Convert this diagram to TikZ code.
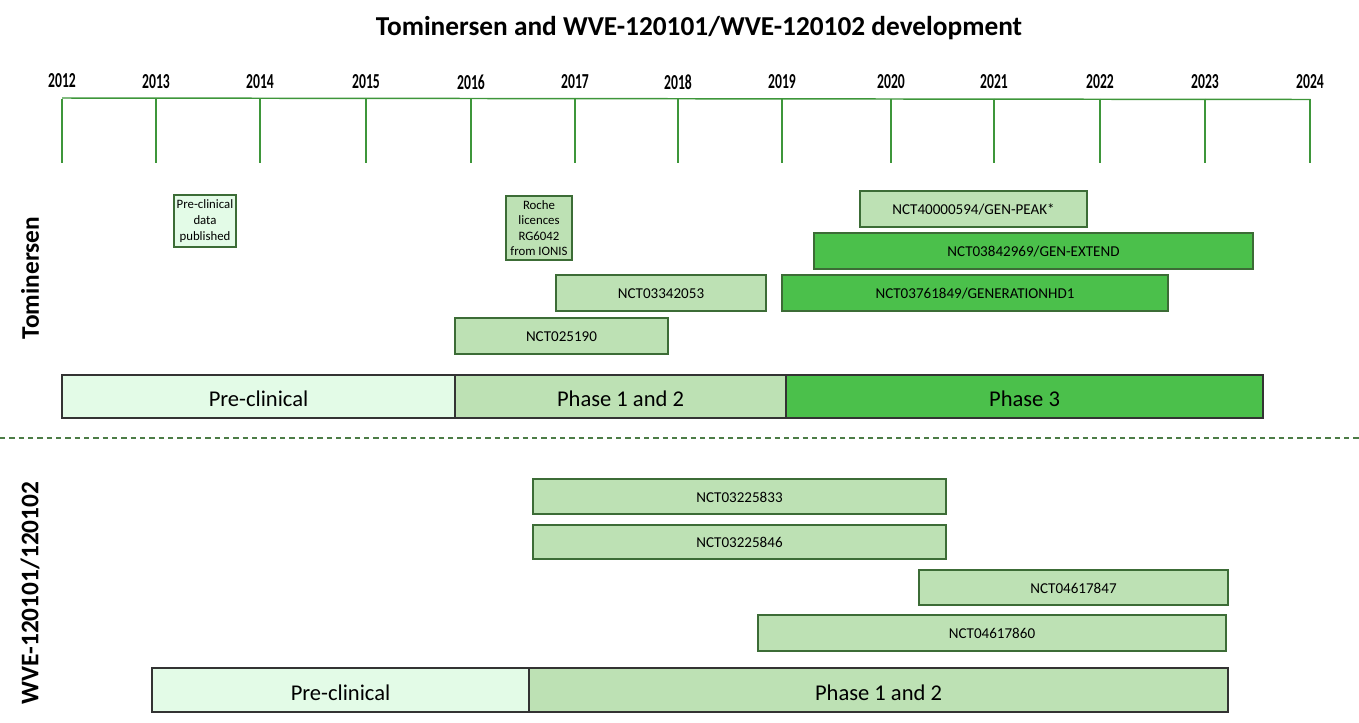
\documentclass[tikz,border=0pt]{standalone}
\usepackage{fontspec}
\setmainfont{Carlito}
\usepackage{graphicx}
\definecolor{lightg}{HTML}{E3FBE7}
\definecolor{midg}{HTML}{BDE1B4}
\definecolor{darkg}{HTML}{4BC04B}
\definecolor{edgeg}{HTML}{3C6C36}
\definecolor{axisg}{HTML}{3E963A}
\definecolor{dashg}{HTML}{4C7C46}
\newcommand{\gbox}[7]{\node[#6, minimum width={(#4-#2)*0.75pt}, minimum height={(#5-#3)*0.75pt}] (#1) at ({(#2+#4)/2},{(#3+#5)/2}) {#7};}
\newcommand{\yr}[1]{\scalebox{0.64}[1]{#1}}
\tikzset{
  trial/.style={draw=edgeg, line width=0.9pt, inner sep=0pt, text height=8.6pt, text depth=0pt, font=\fontsize{11.3}{13}\selectfont},
  note/.style={draw=edgeg, line width=0.9pt, inner sep=0pt, align=center, font=\fontsize{9.6}{11.7}\selectfont},
  phase/.style={draw=black!80, line width=0.9pt, inner sep=0pt, text height=15.6pt, text depth=0pt, font=\fontsize{16.9}{20}\selectfont},
  yearlab/.style={font=\bfseries\fontsize{16}{18}\selectfont, inner sep=0pt},
  tick/.style={axisg, line width=0.8pt},
  side/.style={rotate=90, font=\bfseries\fontsize{19}{22}\selectfont, inner sep=0pt}
}
\begin{document}
\begin{tikzpicture}[x=0.75pt,y=-0.75pt]
\useasboundingbox (0,0) rectangle (1359,722);
% title
\node[font=\bfseries\fontsize{20.5}{24}\selectfont, inner sep=0pt] (title) at (699,28) {Tominersen and WVE-120101/WVE-120102 development};
% axis
\coordinate (axL) at (62,98);
\coordinate (axR) at (1310,99.5);
\draw[axisg, line width=1.1pt] (axL) -- (axR);
\foreach \x/\y [count=\i] in {62/2012,156/2013,260/2014,366/2015,471/2016,575/2017,678/2018,782/2019,891/2020,994/2021,1100/2022,1205/2023,1310/2024}{
  \coordinate (top\y) at (\x,98.5);
  \coordinate (bot\y) at (\x,163);
  \draw[tick] (top\y) -- (bot\y);
}
\node[yearlab] (y2012) at (62,80.5) {\yr{2012}};
\foreach \x/\y in {156/2013,260/2014,366/2015,471/2016,575/2017,678/2018,782/2019,891/2020,994/2021,1100/2022,1205/2023,1310/2024}{
  \node[yearlab] (y\y) at (\x,82) {\yr{\y}};
}
% side labels
\node[side] (tomlab) at (30,278) {Tominersen};
\node[side] (wvelab) at (30,593) {WVE-120101/120102};
% Tominersen events
\gbox{pcd}{174}{195}{236}{247}{note, fill=lightg}{Pre-clinical\\data\\published}
\gbox{roche}{506}{196}{572}{260}{note, fill=midg}{Roche\\licences\\RG6042\\from IONIS}
\gbox{peak}{860}{191}{1087}{227}{trial, fill=midg}{NCT40000594/GEN-PEAK*}
\gbox{extend}{814}{233}{1253}{269}{trial, fill=darkg}{NCT03842969/GEN-EXTEND}
\gbox{ghd}{782}{275}{1168}{311}{trial, fill=darkg}{NCT03761849/GENERATIONHD1}
\gbox{n3342}{556}{275}{766}{311}{trial, fill=midg}{NCT03342053}
\gbox{n2519}{455}{318}{668}{354}{trial, fill=midg}{NCT025190}
% Tominersen phases
\gbox{tpre}{62}{375}{455}{418}{phase, fill=lightg}{Pre-clinical}
\gbox{tp12}{455}{375}{786}{418}{phase, fill=midg}{Phase 1 and 2}
\gbox{tp3}{786}{375}{1263}{418}{phase, fill=darkg}{Phase 3}
% separator
\coordinate (sepL) at (0,438);
\coordinate (sepR) at (1359,438);
\draw[dashg, line width=0.9pt, dash pattern=on 4pt off 3pt] (sepL) -- (sepR);
% WVE trials
\gbox{w833}{533}{479}{946}{514}{trial, fill=midg}{NCT03225833}
\gbox{w846}{533}{525}{946}{559}{trial, fill=midg}{NCT03225846}
\gbox{w847}{919}{570}{1228}{605}{trial, fill=midg}{NCT04617847}
\gbox{w860}{758}{615}{1226}{651}{trial, fill=midg}{NCT04617860}
% WVE phases
\gbox{wpre}{152}{668}{529}{712}{phase, fill=lightg}{Pre-clinical}
\gbox{wp12}{529}{668}{1228}{712}{phase, fill=midg}{Phase 1 and 2}
\end{tikzpicture}
\end{document}
